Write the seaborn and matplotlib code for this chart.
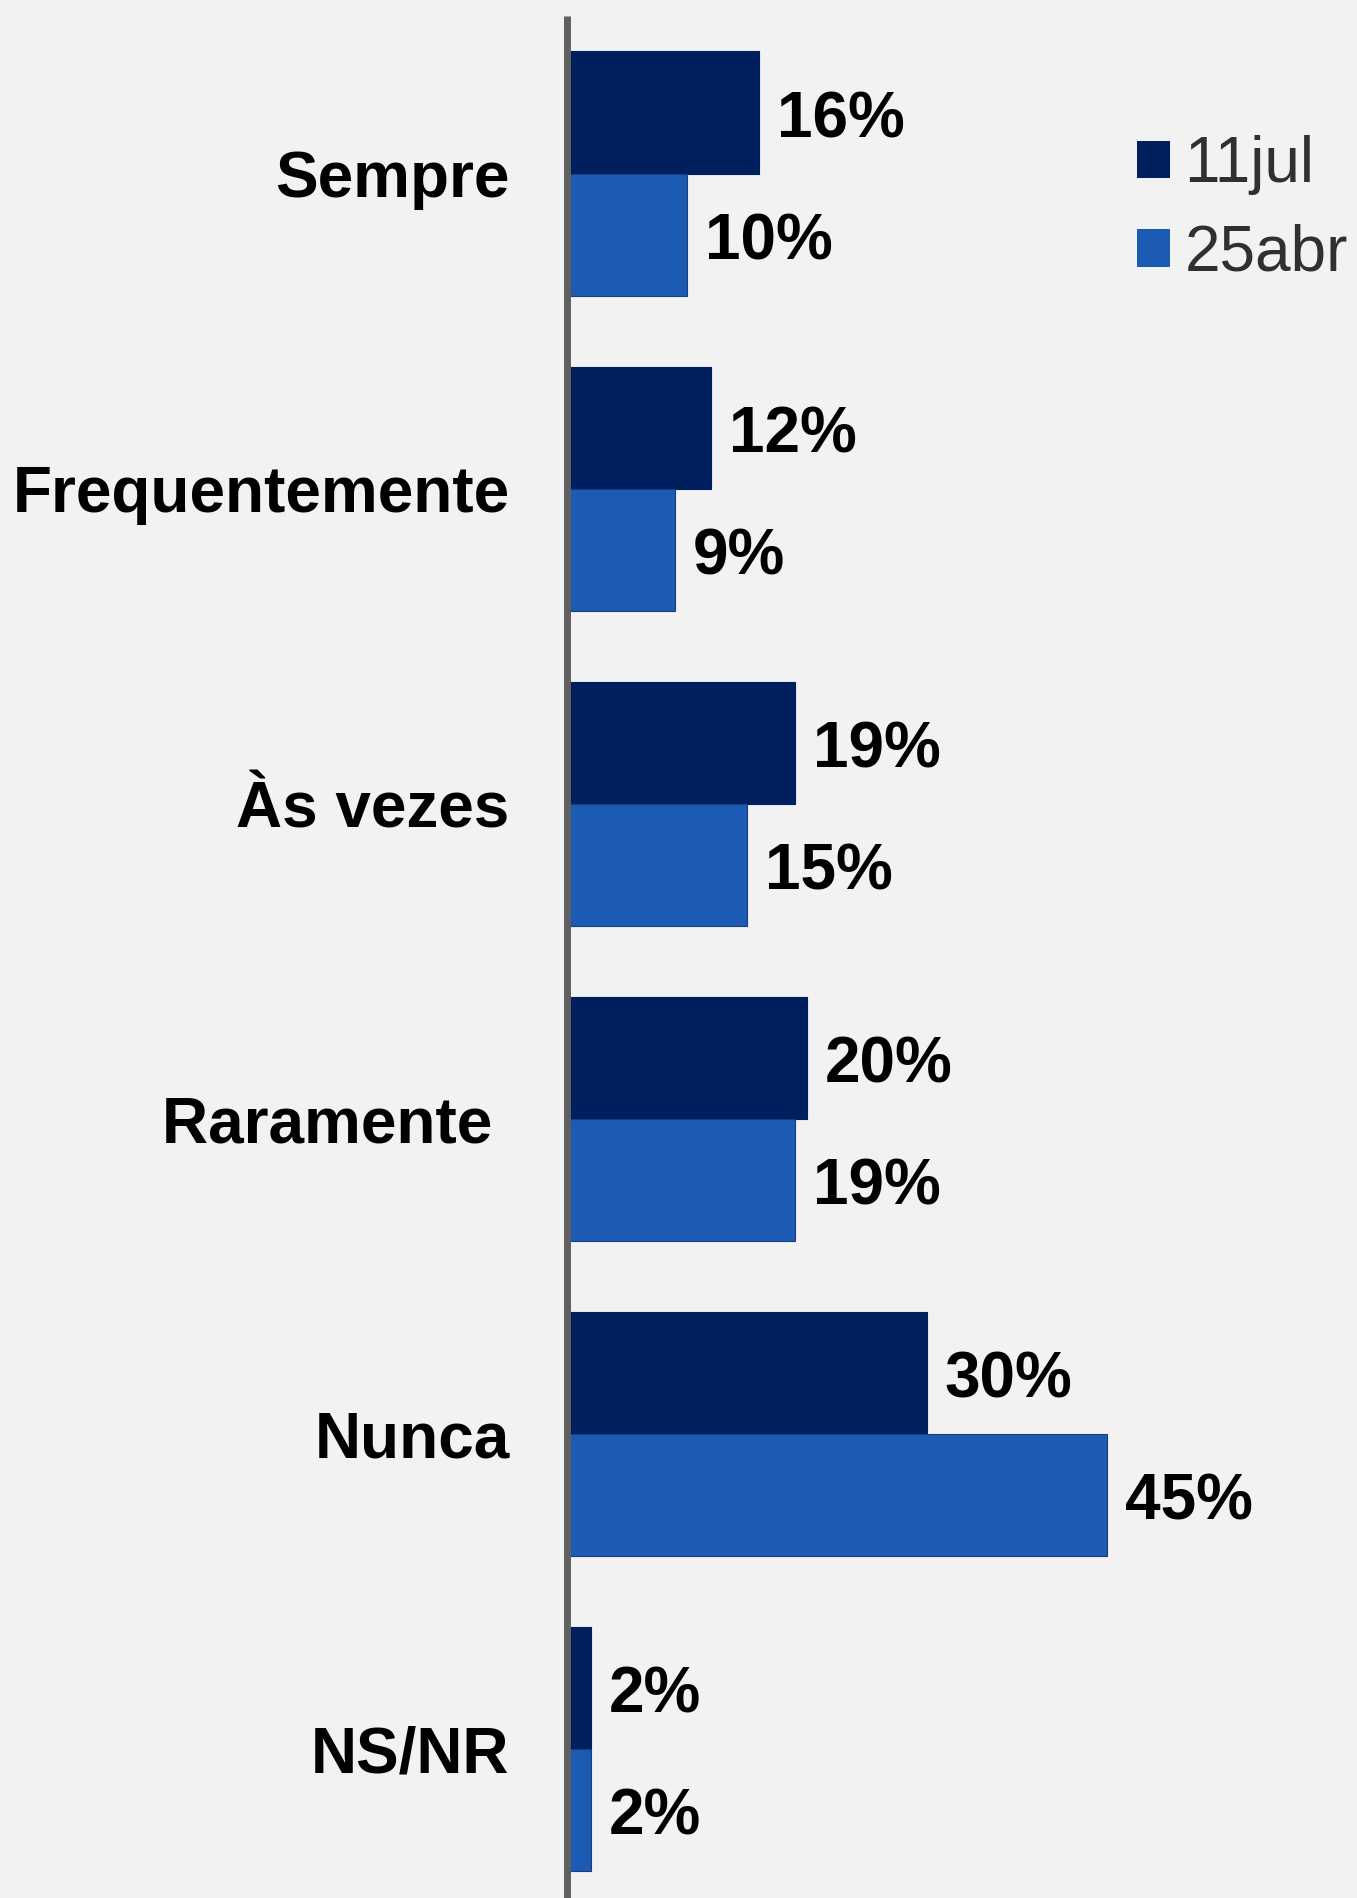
import matplotlib
matplotlib.use("Agg")
import matplotlib.pyplot as plt
import seaborn as sns
import pandas as pd

categories = ["Sempre", "Frequentemente", "Às vezes", "Raramente ", "Nunca", "NS/NR"]
series_names = ["11jul", "25abr"]
values_11jul = [16, 12, 19, 20, 30, 2]
values_25abr = [10, 9, 15, 19, 45, 2]
colors = ["#001F5F", "#1B5BB3"]

df = pd.DataFrame({
    "cat": categories * 2,
    "serie": [series_names[0]] * len(categories) + [series_names[1]] * len(categories),
    "val": values_11jul + values_25abr,
})

sns.set_theme(style="white")
plt.rcParams["font.family"] = ["Liberation Sans", "DejaVu Sans"]

W, H = 1357, 1898
fig = plt.figure(figsize=(W / 100, H / 100), dpi=100, facecolor="#F2F2F2")
ax_left = 566.5 / W
ax_top = 16 / H
ax = fig.add_axes([ax_left, 0, 1 - ax_left, 1 - ax_top])
ax.set_facecolor("#F2F2F2")

sns.barplot(data=df, y="cat", x="val", hue="serie", orient="h", palette=colors,
            width=0.775, ax=ax, order=categories, hue_order=series_names,
            edgecolor=None, linewidth=0, saturation=1, legend=True)

for p, c in zip(ax.patches, [colors[0]] * 6 + [colors[1]] * 6):
    p.set_edgecolor("#1A3C80" if c == colors[1] else c)
    p.set_linewidth(0.8)

for cont in ax.containers:
    texts = ax.bar_label(cont, labels=[f"{int(v)}%" for v in cont.datavalues], padding=13,
                         fontsize=46, fontweight="bold", color="black")
    for t in texts:
        t.xyann = (13, -5.5)

ax.set_xlim(0, (W - 566.5) / 12.0)
ax.set_ylim(5.473, -0.5)
ax.set_xlabel("")
ax.set_ylabel("")
ax.set_xticks([])
for s in ["top", "right", "bottom"]:
    ax.spines[s].set_visible(False)
ax.spines["left"].set_color("#606060")
ax.spines["left"].set_linewidth(5)
ax.spines["left"].set_capstyle("butt")
ax.tick_params(axis="y", length=0, pad=41)
for t in ax.get_yticklabels():
    t.set_fontsize(46)
    t.set_fontweight("bold")
    t.set_color("black")

handles, labels = ax.get_legend_handles_labels()
ax.legend(handles, labels, loc="center left",
          bbox_to_anchor=(1137 / W, 1 - 209.5 / H), bbox_transform=fig.transFigure,
          frameon=False, fontsize=46, handlelength=0.52, handleheight=0.52,
          handletextpad=0.22, borderpad=0, borderaxespad=0, labelspacing=0.44,
          labelcolor="#303030")

fig.savefig("out.png", dpi=100, facecolor=fig.get_facecolor())
